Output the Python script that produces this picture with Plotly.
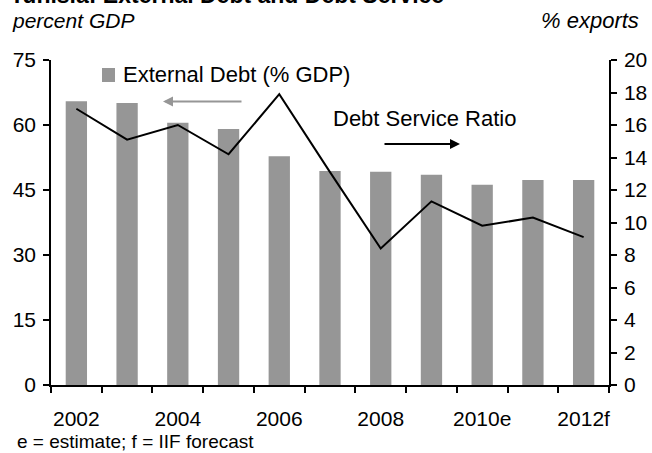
import plotly.graph_objects as go

years = ["2002", "2003", "2004", "2005", "2006", "2007", "2008", "2009", "2010", "2011", "2012"]
tick_text = ["2002", "", "2004", "", "2006", "", "2008", "", "2010e", "", "2012f"]
external_debt = [65.5, 65.1, 60.5, 59.1, 52.8, 49.4, 49.2, 48.5, 46.2, 47.3, 47.3]
debt_service = [17.0, 15.1, 16.0, 14.2, 17.9, 13.1, 8.4, 11.3, 9.8, 10.3, 9.1]

W, H = 652, 453
L, R, T, B = 51, 609, 60, 385

def px(x):
    return (x - L) / (R - L)

def py(y):
    return (B - y) / (B - T)

FONT = "Liberation Sans, Arial, Helvetica, sans-serif"
GRAY = "#969696"

fig = go.Figure()
fig.add_trace(go.Bar(x=years, y=external_debt, marker_color=GRAY, marker_line_width=0,
                     name="External Debt (% GDP)", yaxis="y"))
fig.add_trace(go.Scatter(x=years, y=debt_service, mode="lines", line=dict(color="black", width=2),
                         name="Debt Service Ratio", yaxis="y2"))

fig.update_layout(
    width=W, height=H,
    margin=dict(l=L, r=W - R, t=T, b=H - B, autoexpand=False),
    paper_bgcolor="white", plot_bgcolor="white",
    showlegend=False,
    bargap=0.58,
    font=dict(family=FONT, size=21, color="black"),
    xaxis=dict(type="category", tickmode="array", tickvals=years, ticktext=tick_text,
               tickson="boundaries", ticks="outside", ticklen=6, tickwidth=1.5, tickcolor="black",
               showline=True, linecolor="black", linewidth=1.5, showgrid=False, automargin=False,
               tickangle=0, tickfont=dict(size=21), ticklabelstandoff=14),
    yaxis=dict(range=[0, 75], tickvals=[0, 15, 30, 45, 60, 75], ticks="outside", ticklen=6,
               tickwidth=1.5, tickcolor="black", showline=True, linecolor="black", linewidth=1.5,
               showgrid=False, zeroline=False, tickfont=dict(size=21), ticklabelstandoff=3,
               automargin=False),
    yaxis2=dict(range=[0, 20], tickvals=list(range(0, 21, 2)), overlaying="y", side="right",
                ticks="outside", ticklen=6, tickwidth=1.5, tickcolor="black", showline=True,
                linecolor="black", linewidth=1.5, showgrid=False, zeroline=False,
                tickfont=dict(size=21), ticklabelstandoff=3, automargin=False),
)

# Legend square and label
fig.add_shape(type="rect", xref="paper", yref="paper",
              x0=px(102), x1=px(115), y0=py(82), y1=py(68),
              fillcolor=GRAY, line_width=0)
fig.add_annotation(xref="paper", yref="paper", x=px(121), y=py(75), xanchor="left", yanchor="middle",
                   text="External Debt (% GDP)", showarrow=False, font=dict(size=22))
fig.add_annotation(xref="paper", yref="paper", x=px(331), y=py(118), xanchor="left", yanchor="middle",
                   text="Debt Service Ratio", showarrow=False, font=dict(size=22))

# Arrows
fig.add_annotation(xref="paper", yref="paper", x=px(163), y=py(101.5), ax=80, ay=0,
                   axref="pixel", ayref="pixel", showarrow=True, arrowhead=2, arrowsize=1,
                   arrowwidth=2, arrowcolor=GRAY, text="")
fig.add_annotation(xref="paper", yref="paper", x=px(460), y=py(144), ax=-77, ay=0,
                   axref="pixel", ayref="pixel", showarrow=True, arrowhead=2, arrowsize=1,
                   arrowwidth=2, arrowcolor="black", text="")

# Titles and notes
fig.add_annotation(xref="paper", yref="paper", x=px(8), y=py(10), xanchor="left", yanchor="bottom",
                   text="<b>Tunisia: External Debt and Debt Service</b>", showarrow=False,
                   font=dict(size=23))
fig.add_annotation(xref="paper", yref="paper", x=px(10), y=py(21), xanchor="left", yanchor="middle",
                   text="<i>percent GDP</i>", showarrow=False, font=dict(size=21))
fig.add_annotation(xref="paper", yref="paper", x=px(641), y=py(21), xanchor="right", yanchor="middle",
                   text="<i>% exports</i>", showarrow=False, font=dict(size=22))
fig.add_annotation(xref="paper", yref="paper", x=px(15), y=py(441), xanchor="left", yanchor="middle",
                   text="e = estimate; f = IIF forecast", showarrow=False, font=dict(size=19))

fig.write_html("out.html")
